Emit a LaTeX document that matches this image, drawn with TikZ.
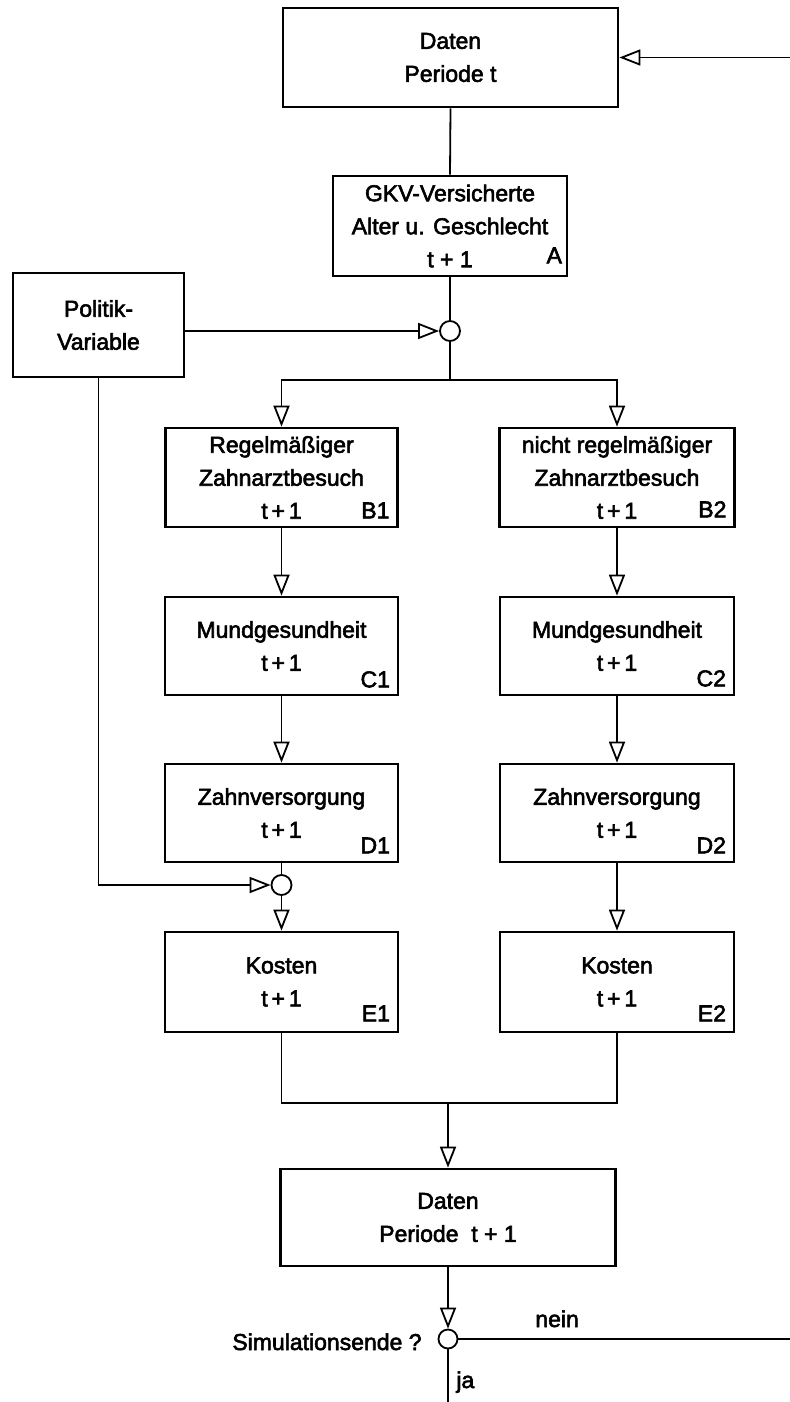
\documentclass[tikz,border=0pt]{standalone}
\usepackage{fontspec}
\setmainfont{Liberation Sans}[BoldFont={Liberation Sans},BoldFeatures={FakeBold=2.5}]
\usetikzlibrary{arrows.meta,calc}
\begin{document}
\begin{tikzpicture}[x=0.5pt,y=-0.5pt,
  box/.style={draw,line width=1.35pt,rectangle,inner sep=0pt,align=center,font=\fontsize{11.5}{16.5}\selectfont\bfseries},
  junc/.style={draw,circle,line width=0.9pt,minimum size=10pt,inner sep=0pt},
  conn/.style={line width=0.9pt},
  arr/.style={conn,-{Triangle[open,length=10.5pt,width=8pt,line width=0.9pt]}},
  tag/.style={anchor=base east,inner sep=0pt,font=\fontsize{11.5}{14}\selectfont\bfseries},
  lbl/.style={inner sep=0pt,font=\fontsize{11.5}{14}\selectfont\bfseries}]
\fill[white] (0,0) rectangle (790,1402);
\useasboundingbox (0,0) rectangle (790,1402);

% boxes
\node[box,minimum width=167.5pt,minimum height=49.5pt] (d0) at (450.5,57.5) {Daten\\Periode t};
\node[box,minimum width=117pt,minimum height=50pt] (a) at (450,226) {GKV-Versicherte\\Alter u. Geschlecht\\t + 1};
\node[junc] (cA) at (450,331) {};
\node[box,minimum width=85.5pt,minimum height=52pt] (pol) at (98.5,325) {Politik-\\Variable};

\node[box,minimum width=116pt,minimum height=49.5pt] (b1) at (281.5,477.5) {Regelmäßiger\\Zahnarztbesuch\\t\,+\,1};
\node[box,minimum width=117.5pt,minimum height=49.5pt] (b2) at (617,477.5) {nicht regelmäßiger\\Zahnarztbesuch\\t\,+\,1};
\node[box,minimum width=116.5pt,minimum height=49pt] (c1) at (281.5,646) {Mundgesundheit\\t\,+\,1};
\node[box,minimum width=117pt,minimum height=49pt] (c2) at (617,646) {Mundgesundheit\\t\,+\,1};
\node[box,minimum width=116.5pt,minimum height=49pt] (d1) at (281.5,813) {Zahnversorgung\\t\,+\,1};
\node[box,minimum width=117pt,minimum height=49pt] (d2) at (617,813) {Zahnversorgung\\t\,+\,1};
\node[junc] (cD) at (281.5,885) {};
\node[box,minimum width=116.5pt,minimum height=50pt] (e1) at (281.5,982) {Kosten\\t\,+\,1};
\node[box,minimum width=117pt,minimum height=50pt] (e2) at (617,982) {Kosten\\t\,+\,1};
\node[box,minimum width=167.5pt,minimum height=48.5pt] (d3) at (448,1217.5) {Daten\\Periode\ \ t + 1};
\node[junc,minimum size=9.5pt] (cS) at (448,1339) {};

% corner tags
\node[tag] (tA) at ($(a.south east)+(-6,-14)$) {A};
\node[tag] (tB1) at ($(b1.south east)+(-9,-10)$) {B1};
\node[tag] (tB2) at ($(b2.south east)+(-9,-11)$) {B2};
\node[tag] (tC1) at ($(c1.south east)+(-9,-9)$) {C1};
\node[tag] (tC2) at ($(c2.south east)+(-9,-10)$) {C2};
\node[tag] (tD1) at ($(d1.south east)+(-9,-10)$) {D1};
\node[tag] (tD2) at ($(d2.south east)+(-9,-10)$) {D2};
\node[tag] (tE1) at ($(e1.south east)+(-9,-12)$) {E1};
\node[tag] (tE2) at ($(e2.south east)+(-9,-12)$) {E2};

% labels
\node[lbl,anchor=base east] (sim) at (422,1350) {Simulationsende ?};
\node[lbl,anchor=base west] (nein) at (535,1327) {nein};
\node[lbl,anchor=base west] (ja) at (456,1388) {ja};

% free ends
\coordinate (rT) at (790,57.5);
\coordinate (rS) at (790,1339);
\coordinate (bot) at (448,1402);
\coordinate (split) at (450,380);
\coordinate (merge) at (448,1103);

% connectors
\draw[arr] (rT) -- (d0.east);
\draw[conn] (d0.south) -- (a.north);
\draw[conn] (a.south) -- (cA.north);
\draw[arr] (pol.east |- cA.west) -- (cA.west);
\draw[arr] (cA.south) -- (split) -| (b1.north);
\draw[arr] (split) -| (b2.north);
\draw[arr] (b1.south) -- (c1.north);
\draw[arr] (c1.south) -- (d1.north);
\draw[arr] (b2.south) -- (c2.north);
\draw[arr] (c2.south) -- (d2.north);
\draw[conn] (d1.south) -- (cD.north);
\draw[arr] (cD.south) -- (e1.north);
\draw[arr] (pol.south) |- (cD.west);
\draw[arr] (d2.south) -- (e2.north);
\draw[conn] (e1.south) |- (merge) -| (e2.south);
\draw[arr] (merge) -- (d3.north);
\draw[arr] (d3.south) -- (cS.north);
\draw[conn] (cS.east) -- (rS);
\draw[conn] (cS.south) -- (bot);
\end{tikzpicture}
\end{document}
